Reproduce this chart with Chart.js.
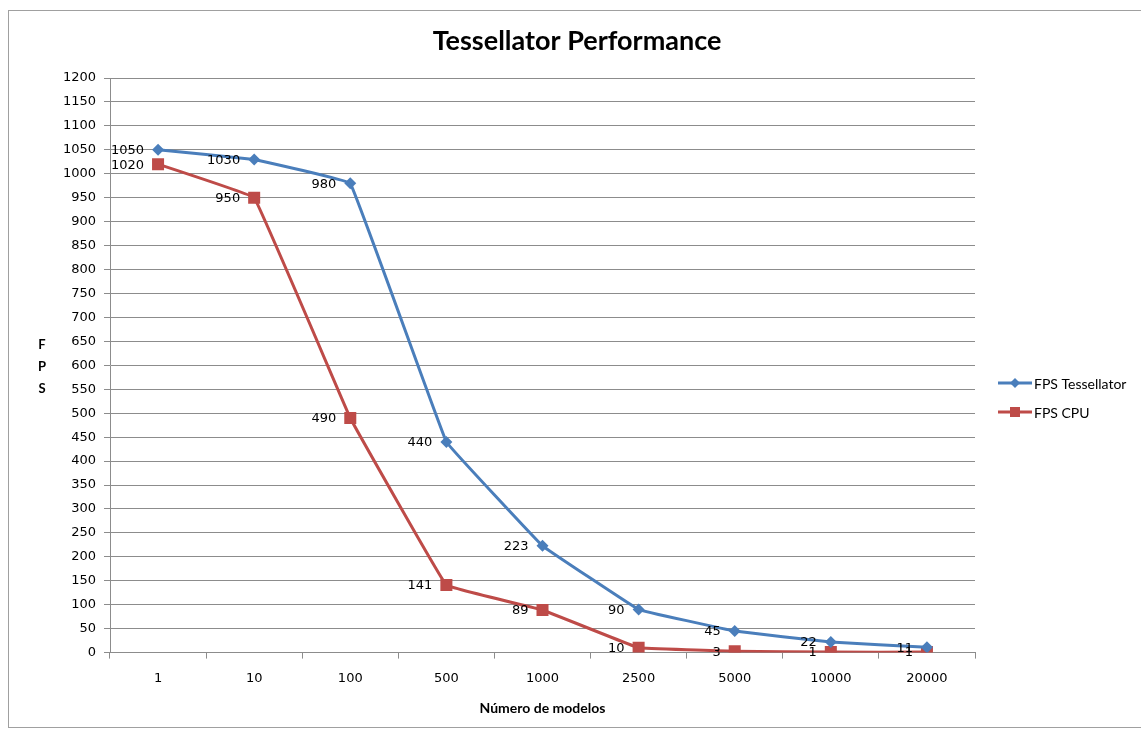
<!DOCTYPE html>
<html>
<head>
<meta charset="utf-8">
<style>
  html, body { margin: 0; padding: 0; background: #fff; }
  #wrap { position: relative; width: 1141px; height: 731px; }
  canvas { display: block; }
</style>
<script src="https://cdn.jsdelivr.net/npm/chart.js@4"></script>
</head>
<body>
<div id="wrap"><canvas id="c" width="1141" height="731"></canvas></div>
<script>
const categories = ['1', '10', '100', '500', '1000', '2500', '5000', '10000', '20000'];
const fpsTessellator = [1050, 1030, 980, 440, 223, 90, 45, 22, 11];
const fpsCPU = [1020, 950, 490, 141, 89, 10, 3, 1, 1];
const seriesNames = ['FPS Tessellator', 'FPS CPU'];
const chartTitle = 'Tessellator Performance';
const xTitle = 'Número de modelos';
const yTitleLetters = ['F', 'P', 'S'];

const BLUE = '#4A7EBB';
const RED = '#BE4B48';
const GRID = '#8C8C8C';
const TICKFONT = { family: '"DejaVu Sans"', size: 13 };

const decorPlugin = {
  id: 'decor',
  beforeDraw(chart) {
    const ctx = chart.ctx;
    ctx.save();
    ctx.strokeStyle = '#A0A0A0';
    ctx.lineWidth = 1;
    ctx.strokeRect(8.5, 10.5, 1200, 717);
    ctx.restore();
  },
  afterDatasetsDraw(chart) {
    const ctx = chart.ctx;
    ctx.save();
    // title
    ctx.font = 'bold 27px Lato';
    ctx.fillStyle = '#000';
    ctx.textAlign = 'center';
    ctx.textBaseline = 'middle';
    ctx.fillText(chartTitle, 577, 41);
    // data labels left of points
    ctx.font = '13px "DejaVu Sans"';
    ctx.textAlign = 'right';
    chart.data.datasets.forEach((ds, i) => {
      const meta = chart.getDatasetMeta(i);
      meta.data.forEach((pt, j) => {
        ctx.fillText(String(ds.data[j]), pt.x - 14, pt.y + 1);
      });
    });
    // Y title stacked letters
    ctx.font = 'bold 13px Lato';
    ctx.textAlign = 'center';
    const ys = [345, 367, 389];
    yTitleLetters.forEach((l, k) => ctx.fillText(l, 42, ys[k]));
    // legend
    const items = chart.data.datasets;
    const ly = [383, 412];
    items.forEach((ds, i) => {
      const y = ly[i];
      ctx.strokeStyle = ds.borderColor;
      ctx.lineWidth = 3;
      ctx.beginPath();
      ctx.moveTo(998, y);
      ctx.lineTo(1032, y);
      ctx.stroke();
      ctx.fillStyle = ds.backgroundColor;
      if (ds.pointStyle === 'rectRot') {
        ctx.beginPath();
        ctx.moveTo(1015, y - 5);
        ctx.lineTo(1020, y);
        ctx.lineTo(1015, y + 5);
        ctx.lineTo(1010, y);
        ctx.closePath();
        ctx.fill();
      } else {
        ctx.fillRect(1010, y - 5, 10, 10);
      }
      ctx.fillStyle = '#000';
      ctx.font = '14px Lato';
      ctx.textAlign = 'left';
      ctx.fillText(ds.label, 1034, y + 1);
    });
    ctx.restore();
  }
};

new Chart(document.getElementById('c'), {
  type: 'line',
  data: {
    labels: categories,
    datasets: [
      {
        label: seriesNames[0],
        data: fpsTessellator,
        borderColor: BLUE,
        backgroundColor: BLUE,
        borderWidth: 3,
        pointStyle: 'rectRot',
        pointRadius: 6,
        pointBorderWidth: 0,
        tension: 0.04
      },
      {
        label: seriesNames[1],
        data: fpsCPU,
        borderColor: RED,
        backgroundColor: RED,
        borderWidth: 3,
        pointStyle: 'rect',
        pointRadius: 8.5,
        pointBorderWidth: 0,
        tension: 0.04
      }
    ]
  },
  plugins: [decorPlugin],
  options: {
    responsive: false,
    animation: false,
    layout: { padding: { left: 10, right: 166, top: 78, bottom: 14 } },
    plugins: {
      legend: { display: false },
      tooltip: { enabled: false },
      title: { display: false }
    },
    scales: {
      x: {
        offset: true,
        grid: {
          offset: true,
          drawOnChartArea: false,
          drawTicks: true,
          tickLength: 6,
          color: GRID
        },
        border: { color: GRID, width: 1 },
        ticks: { color: '#000', font: TICKFONT, padding: 12, maxRotation: 0 },
        title: {
          display: true,
          text: xTitle,
          color: '#000',
          font: { family: 'Lato', size: 14, weight: 'bold' },
          padding: { top: 2, bottom: 0 }
        }
      },
      y: {
        min: 0,
        max: 1200,
        ticks: {
          stepSize: 50,
          color: '#000',
          font: TICKFONT,
          padding: 8,
          callback: (v) => String(v)
        },
        grid: { color: GRID, tickLength: 6, lineWidth: 1 },
        border: { color: GRID, width: 1 },
        afterFit(scale) { scale.width = 100; }
      }
    }
  }
});
</script>
</body>
</html>
